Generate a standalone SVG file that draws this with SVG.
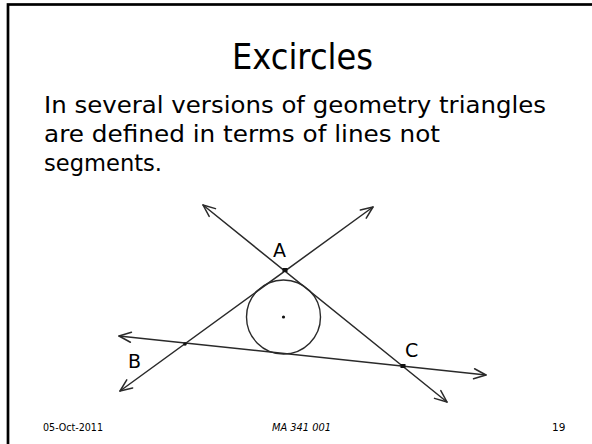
<svg xmlns="http://www.w3.org/2000/svg" width="592" height="444" viewBox="0 0 592 444">
<style>
.t{font-family:"Comic Sans MS","DejaVu Sans",sans-serif;fill:#000}
.ln{stroke:#2a2a2a;stroke-width:1.5;fill:none;stroke-linecap:round}
.pt{fill:#111}
</style>
<defs>
<marker id="ah" viewBox="-14 -8 16 16" refX="0" refY="0" markerWidth="16" markerHeight="16" markerUnits="userSpaceOnUse" orient="auto-start-reverse">
<path d="M -12 -5 L 0 0 L -12 5" fill="none" stroke="#2a2a2a" stroke-width="1.5" stroke-linecap="round" stroke-linejoin="round"/>
</marker>
</defs>
<rect width="592" height="444" fill="#fff"/>
<rect x="8" y="4.5" width="620" height="470" fill="none" stroke="#000" stroke-width="2.7"/>
<text class="t" x="232" y="69" font-size="36" textLength="141" lengthAdjust="spacingAndGlyphs">Excircles</text>
<text class="t" x="44" y="113" font-size="23" textLength="502" lengthAdjust="spacingAndGlyphs">In several versions of geometry triangles</text>
<text class="t" x="44" y="142" font-size="23" textLength="396" lengthAdjust="spacingAndGlyphs">are defined in terms of lines not</text>
<text class="t" x="44" y="171" font-size="23" textLength="118" lengthAdjust="spacingAndGlyphs">segments.</text>
<g id="connectors">
<line class="ln" x1="203" y1="205" x2="447" y2="402" marker-start="url(#ah)" marker-end="url(#ah)"/>
<line class="ln" x1="373" y1="207" x2="120" y2="391" marker-start="url(#ah)" marker-end="url(#ah)"/>
<line class="ln" x1="119" y1="336" x2="486" y2="375" marker-start="url(#ah)" marker-end="url(#ah)"/>
</g>
<g id="incircle">
<circle cx="283.5" cy="317" r="37" fill="none" stroke="#2a2a2a" stroke-width="1.4"/>
<circle class="pt" cx="283.5" cy="317" r="1.6"/>
</g>
<g id="A">
<rect class="pt" x="282.5" y="268" width="5" height="4"/>
<text class="t" x="273" y="257" font-size="19">A</text>
</g>
<g id="B">
<circle class="pt" cx="185" cy="344" r="1.8"/>
<text class="t" x="128" y="368" font-size="19">B</text>
</g>
<g id="C">
<rect class="pt" x="400.5" y="364" width="5" height="4"/>
<text class="t" x="405" y="357" font-size="19">C</text>
</g>
<text class="t" x="43" y="431" font-size="10.5" textLength="60" lengthAdjust="spacingAndGlyphs">05-Oct-2011</text>
<text class="t" x="272" y="431" font-size="10.5" textLength="59" lengthAdjust="spacingAndGlyphs" font-style="italic">MA 341 001</text>
<text class="t" x="552" y="431" font-size="10.5">19</text>
</svg>
